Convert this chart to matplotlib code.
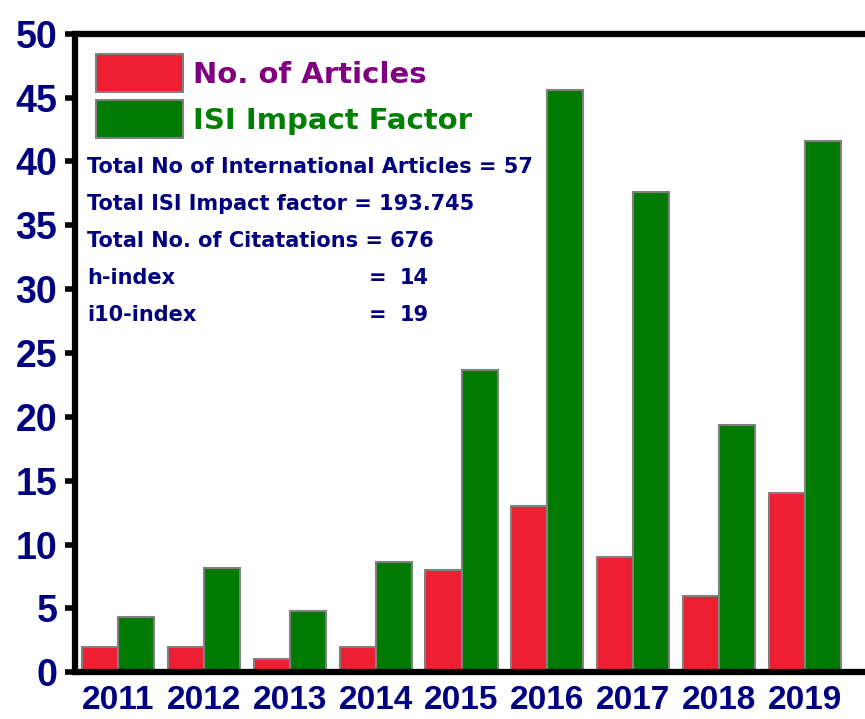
import numpy as np
import matplotlib
matplotlib.use('Agg')
import matplotlib.pyplot as plt

years = ['2011', '2012', '2013', '2014', '2015', '2016', '2017', '2018', '2019']
articles = [2, 2, 1, 2, 8, 13, 9, 6, 14]
impact = [4.3, 8.2, 4.8, 8.6, 23.7, 45.6, 37.6, 19.4, 41.6]

summary_lines = ['Total No of International Articles = 57',
                 'Total ISI Impact factor = 193.745',
                 'Total No. of Citatations = 676']
index_names = ['h-index', 'i10-index']
index_values = ['14', '19']

navy = '#000080'
red = '#EE1F33'
green = '#007A00'

fig = plt.figure(figsize=(8.65, 7.19), dpi=100)
ax = fig.add_axes([0.087, 0.065, 0.913, 0.888])

x = np.arange(len(years))
w = 0.42
b1 = ax.bar(x - w / 2, articles, w, color=red, edgecolor='#808080', linewidth=1.5)
b2 = ax.bar(x + w / 2, impact, w, color=green, edgecolor='#808080', linewidth=1.5)

ax.set_xlim(-0.5, 8.7)
ax.set_ylim(0, 50)
ax.set_yticks(np.arange(0, 51, 5))
ax.set_xticks(x)
ax.set_xticklabels(years)

for lab in ax.get_yticklabels():
    lab.set_fontfamily('Liberation Sans')
    lab.set_fontweight('bold')
    lab.set_fontsize(27)
    lab.set_color(navy)
for lab in ax.get_xticklabels():
    lab.set_fontfamily('Liberation Sans')
    lab.set_fontweight('bold')
    lab.set_fontsize(24)
    lab.set_color(navy)

ax.tick_params(axis='y', length=7, width=4, direction='out', pad=6)
ax.tick_params(axis='x', length=0, pad=9)

ax.spines['right'].set_visible(False)
ax.spines['left'].set_linewidth(4.5)
ax.spines['bottom'].set_linewidth(4.5)
ax.spines['top'].set_linewidth(4.5)

leg = ax.legend([b1, b2], ['No. of Articles', 'ISI Impact Factor'],
                loc='upper left', bbox_to_anchor=(0.0, 1.0), frameon=False,
                prop={'family': 'DejaVu Sans', 'size': 21, 'weight': 'bold'},
                handlelength=3.0, handleheight=1.6, handletextpad=0.35,
                labelspacing=0.3, borderaxespad=0.3)
leg.get_texts()[0].set_color('#800080')
leg.get_texts()[1].set_color('#008000')

y0 = 0.7915
dy = 0.058
fs = 15
for i, line in enumerate(summary_lines):
    ax.text(0.015, y0 - i * dy, line, transform=ax.transAxes, color=navy,
            fontsize=fs, fontweight='bold', va='center', ha='left')
for j, (name, val) in enumerate(zip(index_names, index_values)):
    yy = y0 - (3 + j) * dy
    ax.text(0.015, yy, name, transform=ax.transAxes, color=navy,
            fontsize=fs, fontweight='bold', va='center', ha='left')
    ax.text(0.371, yy, '=', transform=ax.transAxes, color=navy,
            fontsize=fs, fontweight='bold', va='center', ha='left')
    ax.text(0.411, yy, val, transform=ax.transAxes, color=navy,
            fontsize=fs, fontweight='bold', va='center', ha='left')

fig.savefig('out.png', dpi=100)
